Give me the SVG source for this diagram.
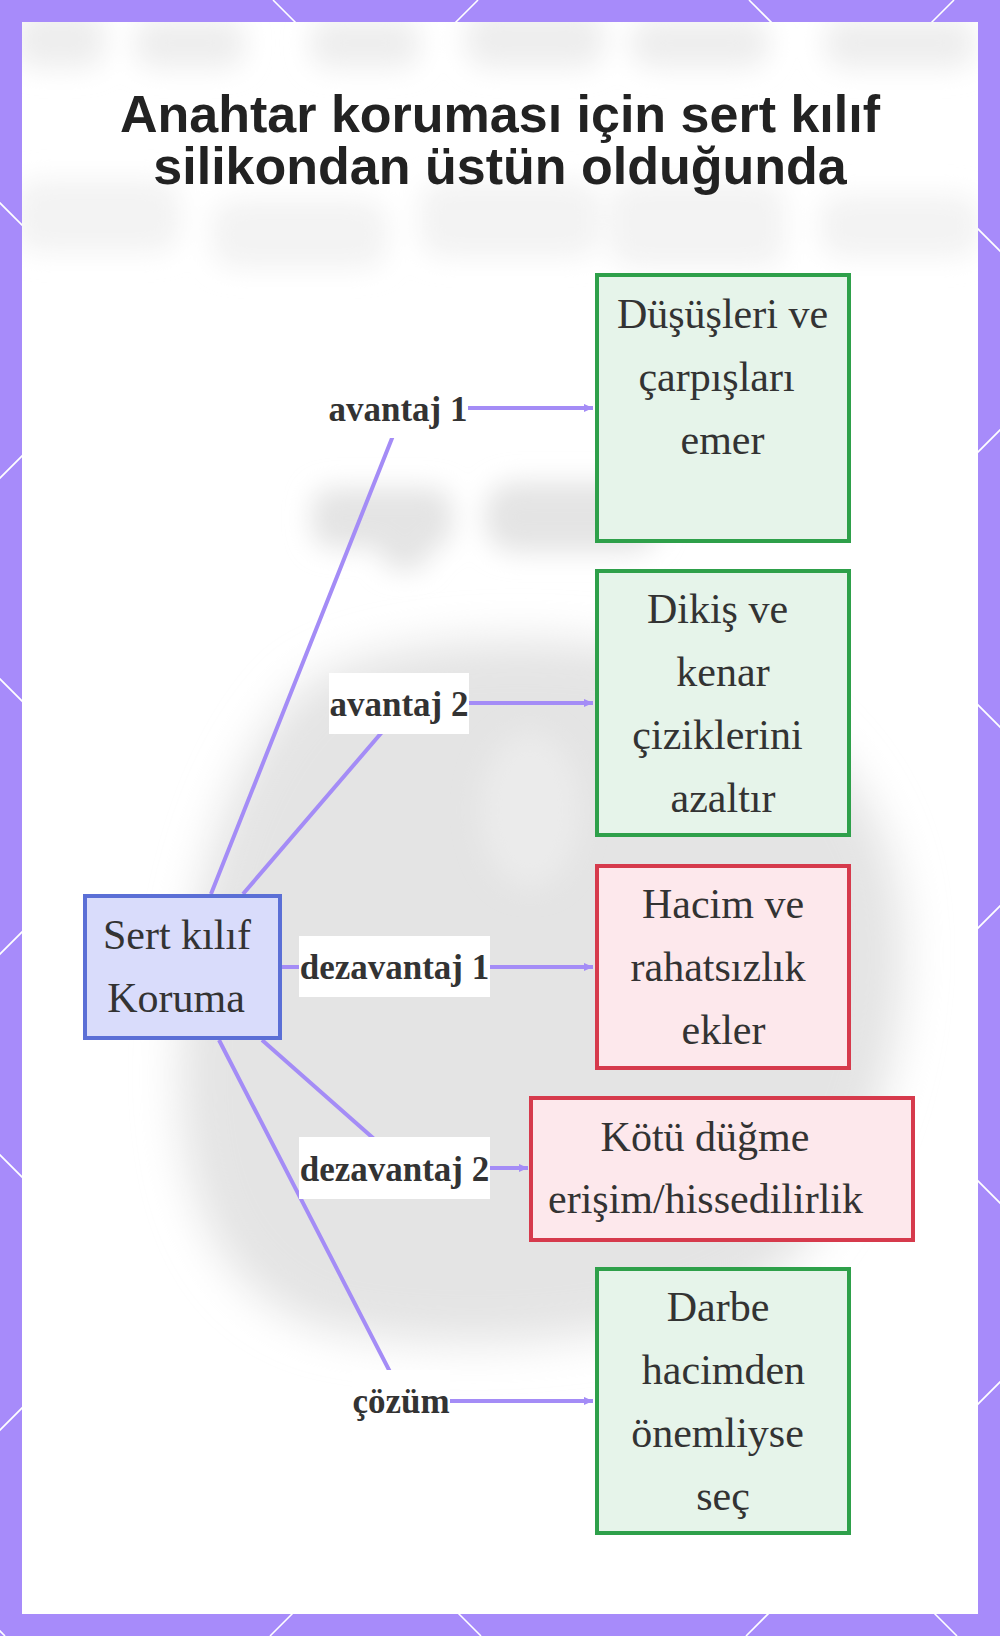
<svg xmlns="http://www.w3.org/2000/svg" width="1000" height="1636" viewBox="0 0 1000 1636">
<defs>
<style>
.lat{stroke:#ffffff;stroke-width:1.6;fill:none}
.title{font-family:"Liberation Sans",Arial,sans-serif;font-weight:bold;font-size:52px;fill:#222222;text-anchor:middle}
.nt{font-family:"Liberation Serif","Times New Roman",serif;font-size:42px;fill:#333333;text-anchor:middle}
.lt{font-family:"Liberation Serif","Times New Roman",serif;font-weight:bold;font-size:35px;fill:#333333;text-anchor:middle}
.lbg{fill:#ffffff}
.good{fill:#e6f4ea;stroke:#2ea04a;stroke-width:4}
.bad{fill:#fde8ec;stroke:#d63a4c;stroke-width:4}
.main{fill:#d9dcfb;stroke:#5b6fd6;stroke-width:4}
.edge{fill:none;stroke:#a48cf6;stroke-width:4}
</style>
<marker id="arr" viewBox="0 0 10 10" refX="10" refY="5" markerUnits="userSpaceOnUse" markerWidth="9" markerHeight="9" orient="auto">
<path d="M0,0.5 L10,5 L0,9.5 z" fill="#a48cf6"/>
</marker>
<filter id="blurL" x="-30%" y="-30%" width="160%" height="160%"><feGaussianBlur stdDeviation="22"/></filter>
<filter id="blurM" x="-30%" y="-60%" width="160%" height="220%"><feGaussianBlur stdDeviation="13"/></filter>
<clipPath id="card"><rect x="22" y="22" width="956" height="1592"/></clipPath>
</defs>

<!-- frame -->
<rect x="0" y="0" width="1000" height="1636" fill="#a78bfa"/>
<g id="lattice">
<line class="lat" x1="-1631" y1="0" x2="5" y2="1636"/>
<line class="lat" x1="-1155" y1="0" x2="481" y2="1636"/>
<line class="lat" x1="-679" y1="0" x2="957" y2="1636"/>
<line class="lat" x1="-203" y1="0" x2="1433" y2="1636"/>
<line class="lat" x1="273" y1="0" x2="1909" y2="1636"/>
<line class="lat" x1="749" y1="0" x2="2385" y2="1636"/>
<line class="lat" x1="478" y1="0" x2="-1158" y2="1636"/>
<line class="lat" x1="954" y1="0" x2="-682" y2="1636"/>
<line class="lat" x1="1430" y1="0" x2="-206" y2="1636"/>
<line class="lat" x1="1906" y1="0" x2="270" y2="1636"/>
<line class="lat" x1="2382" y1="0" x2="746" y2="1636"/>
<line class="lat" x1="2858" y1="0" x2="1222" y2="1636"/>
</g>
<rect x="22" y="22" width="956" height="1592" fill="#ffffff"/>

<!-- blurred background -->
<g id="background" clip-path="url(#card)">
<g filter="url(#blurM)" fill="#eeeeee">
<rect x="15" y="10" width="90" height="58" rx="20"/>
<rect x="135" y="18" width="110" height="50" rx="20"/>
<rect x="310" y="18" width="110" height="50" rx="20"/>
<rect x="465" y="10" width="140" height="58" rx="24"/>
<rect x="630" y="18" width="140" height="50" rx="24"/>
<rect x="825" y="18" width="150" height="50" rx="20"/>
</g>
<g filter="url(#blurM)" fill="#f3f3f3">
<rect x="15" y="180" width="165" height="72" rx="22"/>
<rect x="212" y="200" width="175" height="68" rx="22"/>
<rect x="420" y="182" width="180" height="75" rx="22"/>
<rect x="610" y="182" width="175" height="85" rx="22"/>
<rect x="820" y="195" width="160" height="62" rx="22"/>
</g>
<g filter="url(#blurM)" fill="#e4e4e4">
<rect x="312" y="488" width="140" height="60" rx="20"/>
<rect x="380" y="520" width="50" height="50" rx="20"/>
<rect x="485" y="482" width="175" height="70" rx="30"/>
</g>
<path filter="url(#blurL)" fill="#e4e4e4" d="M300,690 C360,640 520,630 640,650 C760,670 880,760 900,900 C915,1020 880,1150 800,1250 C720,1340 480,1360 330,1330 C220,1300 180,1200 180,1080 C180,920 220,770 300,690 Z"/>
<ellipse filter="url(#blurM)" cx="530" cy="810" rx="50" ry="78" fill="#ebebeb"/>
</g>

<!-- title -->
<g id="title">
<text class="title" x="500" y="132">Anahtar koruması için sert kılıf</text>
<text class="title" x="500" y="184">silikondan üstün olduğunda</text>
</g>

<!-- connectors -->
<g id="connectors">
<path class="edge" d="M211,894 L404,408 H593" marker-end="url(#arr)"/>
<path class="edge" d="M243,894 L407,703 H593" marker-end="url(#arr)"/>
<path class="edge" d="M282,967 H593" marker-end="url(#arr)"/>
<path class="edge" d="M262,1040 L407,1168 H528" marker-end="url(#arr)"/>
<path class="edge" d="M219,1040 L405,1401 H593" marker-end="url(#arr)"/>
</g>

<!-- edge labels -->
<g id="label-avantaj1"><rect class="lbg" x="329" y="377" width="139" height="61"/><text class="lt" x="398" y="421">avantaj 1</text></g>
<g id="label-avantaj2"><rect class="lbg" x="329" y="673" width="140" height="61"/><text class="lt" x="399" y="716">avantaj 2</text></g>
<g id="label-dezavantaj1"><rect class="lbg" x="299" y="936" width="191" height="61"/><text class="lt" x="394.5" y="979">dezavantaj 1</text></g>
<g id="label-dezavantaj2"><rect class="lbg" x="299" y="1137" width="191" height="62"/><text class="lt" x="394.5" y="1181">dezavantaj 2</text></g>
<g id="label-cozum"><rect class="lbg" x="352" y="1370" width="98" height="62"/><text class="lt" x="401" y="1413">çözüm</text></g>

<!-- nodes -->
<g id="node-main">
<rect class="main" x="85" y="896" width="195" height="142"/>
<text class="nt" x="177" y="949">Sert kılıf</text>
<text class="nt" x="176" y="1012">Koruma</text>
</g>
<g id="node-pro1">
<rect class="good" x="597" y="275" width="252" height="266"/>
<text class="nt" x="722.5" y="328">Düşüşleri ve</text>
<text class="nt" x="716.5" y="391">çarpışları</text>
<text class="nt" x="722.5" y="454">emer</text>
</g>
<g id="node-pro2">
<rect class="good" x="597" y="571" width="252" height="264"/>
<text class="nt" x="717.5" y="623">Dikiş ve</text>
<text class="nt" x="723" y="686">kenar</text>
<text class="nt" x="717.5" y="749">çiziklerini</text>
<text class="nt" x="723" y="812">azaltır</text>
</g>
<g id="node-con1">
<rect class="bad" x="597" y="866" width="252" height="202"/>
<text class="nt" x="723" y="918">Hacim ve</text>
<text class="nt" x="718" y="981">rahatsızlık</text>
<text class="nt" x="723.5" y="1044">ekler</text>
</g>
<g id="node-con2">
<rect class="bad" x="531" y="1098" width="382" height="142"/>
<text class="nt" x="705" y="1151">Kötü düğme</text>
<text class="nt" x="705.5" y="1213">erişim/hissedilirlik</text>
</g>
<g id="node-sol">
<rect class="good" x="597" y="1269" width="252" height="264"/>
<text class="nt" x="718" y="1321">Darbe</text>
<text class="nt" x="723.5" y="1384">hacimden</text>
<text class="nt" x="717.5" y="1447">önemliyse</text>
<text class="nt" x="723" y="1510">seç</text>
</g>
</svg>
